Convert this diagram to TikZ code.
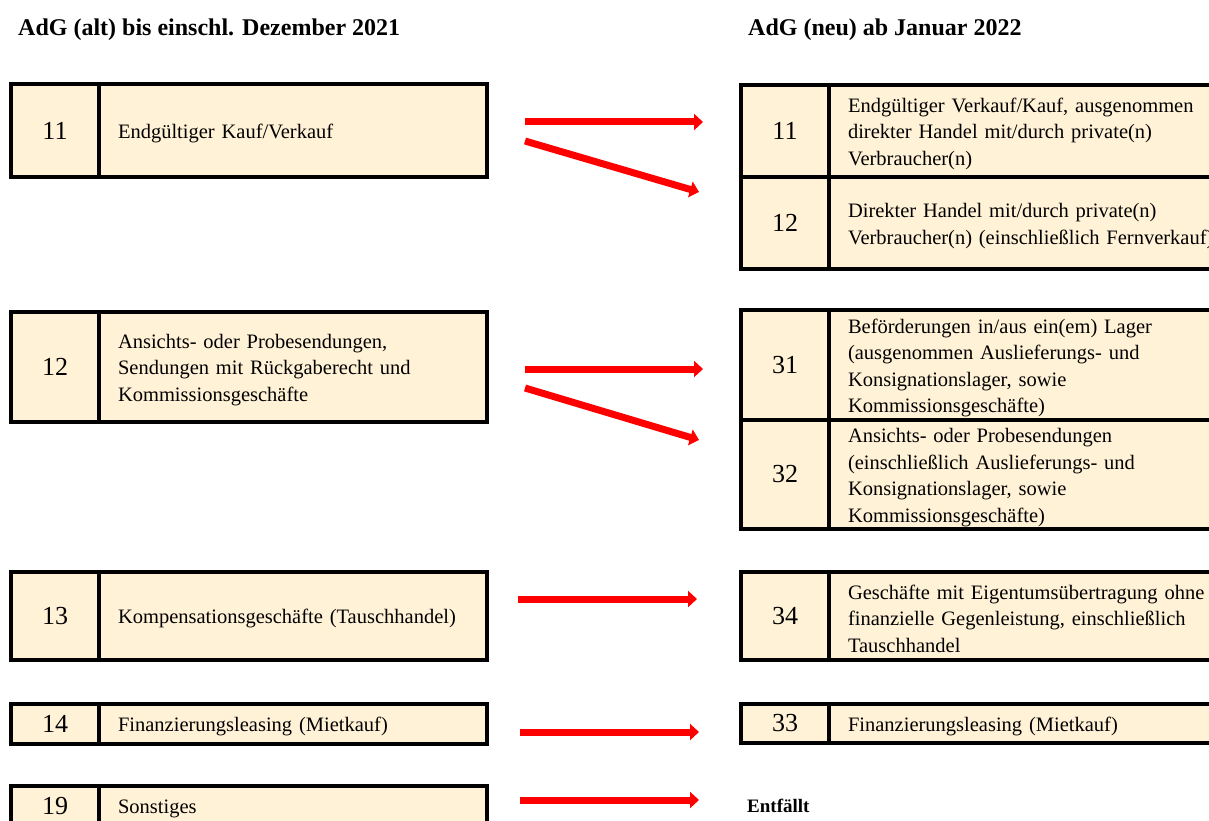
\documentclass[tikz,border=0pt]{standalone}
\usepackage{fontspec}
\setmainfont{Liberation Serif}
\usetikzlibrary{arrows.meta}
\definecolor{cellfill}{RGB}{255,242,214}
\definecolor{arrowred}{RGB}{255,0,0}
\tikzset{
  cell/.style={draw=black, line width=4pt, fill=cellfill, outer sep=0pt, anchor=north west, inner sep=0pt},
  numcell/.style={cell, minimum width=88pt, font=\fontsize{26}{30}\selectfont},
  lefttext/.style={cell, inner xsep=19pt, text width=350pt, text height=20pt, align=left, font=\fontsize{20.5}{26.5}\selectfont},
  righttext/.style={cell, inner xsep=19pt, text width=420pt, text height=20pt, align=left, font=\fontsize{20.5}{26.5}\selectfont},
  hdr/.style={inner sep=0pt, anchor=base west, font=\bfseries\fontsize{24}{28}\selectfont},
  flow/.style={draw=arrowred, line width=7pt, -{Triangle[length=9pt,width=16pt]}}
}
\begin{document}
\begin{tikzpicture}[x=1pt,y=-1pt]
\useasboundingbox (0,0) rectangle (1209,821);
\clip (0,0) rectangle (1209,821);
% headers
\node[hdr] (hl) at (18,36) {AdG (alt) bis einschl. Dezember 2021};
\node[hdr] (hr) at (748,36) {AdG (neu) ab Januar 2022};
% left boxes
\node[numcell, minimum height=92.5pt] (l11n) at (11,84.5) {11};
\node[lefttext, minimum height=92.5pt] (l11t) at (99,84.5) {Endgültiger Kauf/Verkauf};
\node[numcell, minimum height=110.5pt] (l12n) at (11,311.5) {12};
\node[lefttext, minimum height=110.5pt] (l12t) at (99,311.5) {Ansichts- oder Probesendungen,\\Sendungen mit Rückgaberecht und\\Kommissionsgeschäfte};
\node[numcell, minimum height=88.5pt] (l13n) at (11,571.5) {13};
\node[lefttext, minimum height=88.5pt] (l13t) at (99,571.5) {Kompensationsgeschäfte (Tauschhandel)};
\node[numcell, minimum height=40pt] (l14n) at (11,703.5) {14};
\node[lefttext, minimum height=40pt] (l14t) at (99,703.5) {Finanzierungsleasing (Mietkauf)};
\node[numcell, minimum height=40pt] (l19n) at (11,786) {19};
\node[lefttext, minimum height=40pt] (l19t) at (99,786) {Sonstiges};
% right boxes
\node[numcell, minimum height=92pt] (r11n) at (741,85) {11};
\node[righttext, minimum height=92pt] (r11t) at (829,85) {Endgültiger Verkauf/Kauf, ausgenommen\\direkter Handel mit/durch private(n)\\Verbraucher(n)};
\node[numcell, minimum height=92pt] (r12n) at (741,177) {12};
\node[righttext, minimum height=92pt] (r12t) at (829,177) {Direkter Handel mit/durch private(n)\\Verbraucher(n) (einschließlich Fernverkauf)};
\node[numcell, minimum height=110pt] (r31n) at (741,310) {31};
\node[righttext, minimum height=110pt] (r31t) at (829,310) {Beförderungen in/aus ein(em) Lager\\(ausgenommen Auslieferungs- und\\Konsignationslager, sowie\\Kommissionsgeschäfte)};
\node[numcell, minimum height=109pt] (r32n) at (741,420) {32};
\node[righttext, minimum height=109pt] (r32t) at (829,420) {Ansichts- oder Probesendungen\\(einschließlich Auslieferungs- und\\Konsignationslager, sowie\\Kommissionsgeschäfte)};
\node[numcell, minimum height=88pt] (r34n) at (741,572) {34};
\node[righttext, minimum height=88pt] (r34t) at (829,572) {Geschäfte mit Eigentumsübertragung ohne\\finanzielle Gegenleistung, einschließlich\\Tauschhandel};
\node[numcell, minimum height=39pt] (r33n) at (741,704) {33};
\node[righttext, minimum height=39pt] (r33t) at (829,704) {Finanzierungsleasing (Mietkauf)};
\node[inner sep=0pt, anchor=base west, font=\bfseries\fontsize{19}{22}\selectfont] (entf) at (747,812) {Entfällt};
% arrows
\coordinate (s11a) at (525,122); \coordinate (e11a) at (703,122);
\coordinate (s11b) at (525,141); \coordinate (e11b) at (699,192);
\coordinate (s12a) at (525,369); \coordinate (e12a) at (703,369);
\coordinate (s12b) at (525,388); \coordinate (e12b) at (699,440);
\coordinate (s13) at (518,599); \coordinate (e13) at (697,599);
\coordinate (s14) at (520,732); \coordinate (e14) at (699,732);
\coordinate (s19) at (520,800); \coordinate (e19) at (699,800);
\draw[flow] (s11a) -- (e11a);
\draw[flow] (s11b) -- (e11b);
\draw[flow] (s12a) -- (e12a);
\draw[flow] (s12b) -- (e12b);
\draw[flow] (s13) -- (e13);
\draw[flow] (s14) -- (e14);
\draw[flow] (s19) -- (e19);
\end{tikzpicture}
\end{document}
